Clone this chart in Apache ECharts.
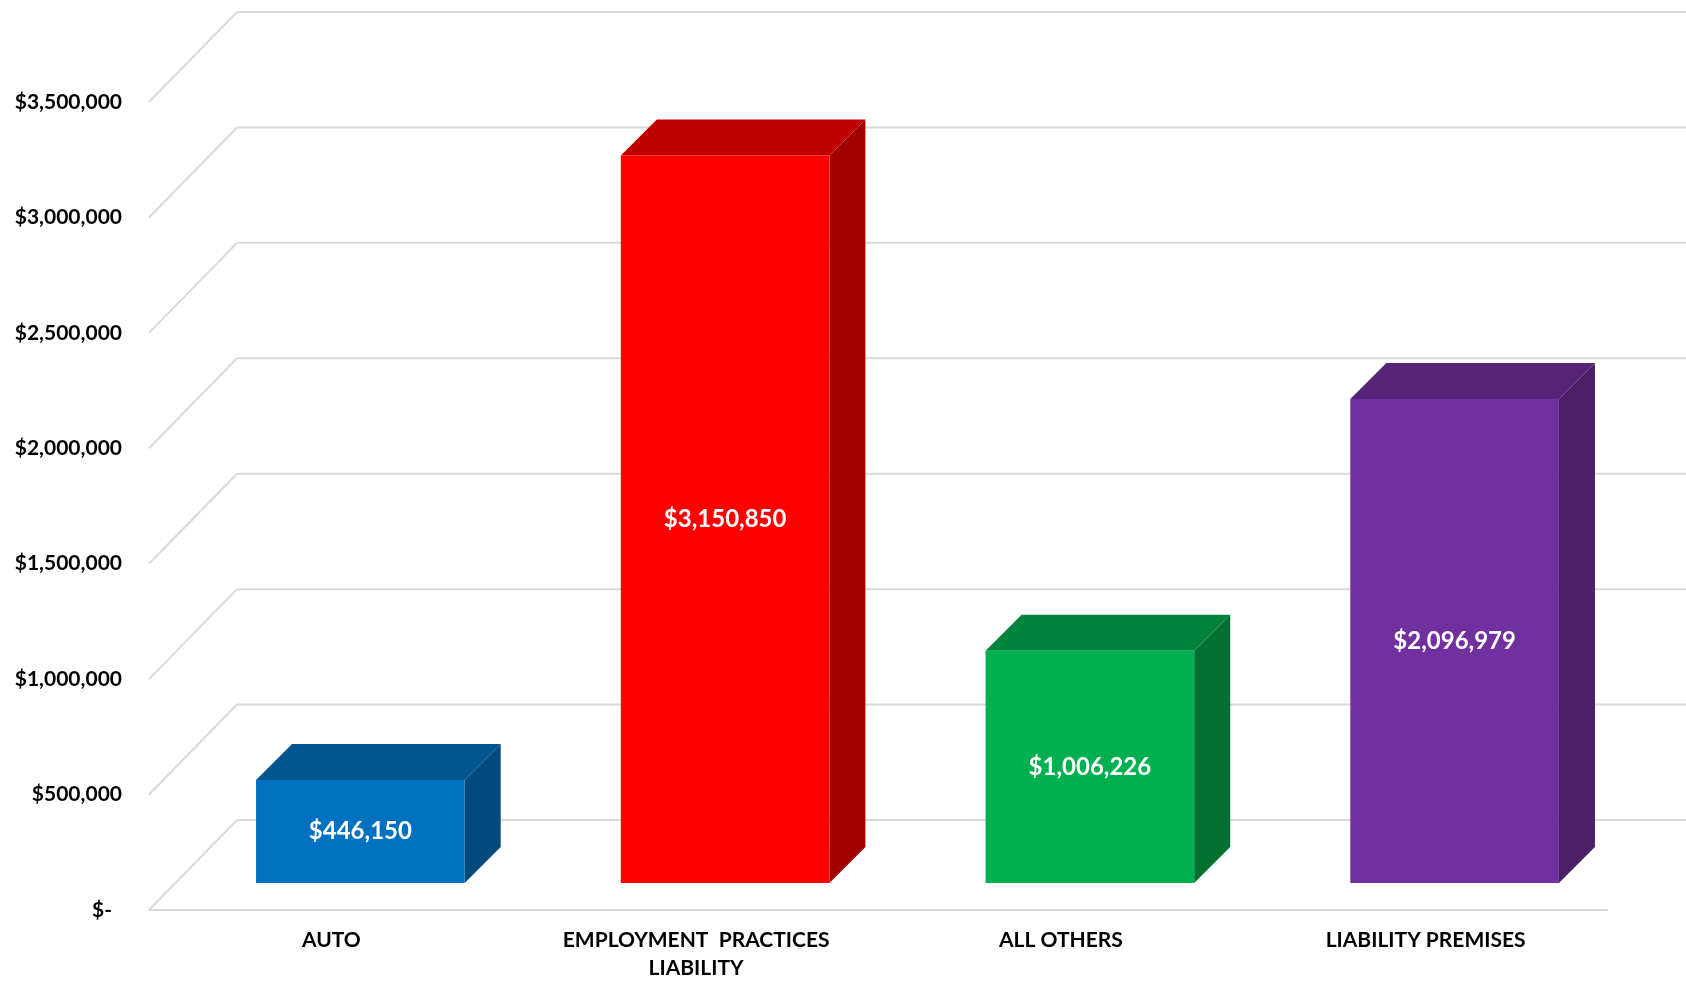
<!DOCTYPE html>
<html>
<head>
<meta charset="utf-8">
<script src="https://cdn.jsdelivr.net/npm/echarts@6/dist/echarts.min.js"></script>
<style>
  html, body { margin: 0; padding: 0; background: #ffffff; }
  #chart { width: 1686px; height: 982px; }
</style>
</head>
<body>
<div id="chart"></div>
<script>
// Claim totals by line of coverage
const categories = ['AUTO', 'EMPLOYMENT  PRACTICES\nLIABILITY', 'ALL OTHERS', 'LIABILITY PREMISES'];
const amounts = [446150, 3150850, 1006226, 2096979];
const yTicks = [0, 500000, 1000000, 1500000, 2000000, 2500000, 3000000, 3500000];

// front / top / side shades for each bar
const frontColors = ['#0070C0', '#FF0000', '#00B050', '#7030A0'];
const topColors = ['#00578F', '#C00000', '#00843D', '#552378'];
const sideColors = ['#004A7C', '#A30000', '#007030', '#4A1F66'];

// perspective settings (pixels)
const WALL_DX = 88, WALL_DY = 90;   // floor depth, front edge to back wall
const BAR_INSET_X = 29;             // bar front face set back from the front edge
const BAR_INSET_Y = 27;
const BAR_DEPTH = 36;               // bar depth
const BAR_WIDTH_RATIO = 0.572;
const GRID_COLOR = '#D9D9D9';

const fmtMoney = v => '$' + Math.round(v).toLocaleString('en-US');

const chart = echarts.init(document.getElementById('chart'), null, { renderer: 'canvas' });

const option = {
  backgroundColor: '#ffffff',
  animation: false,
  grid: { left: 149, right: 78, top: 102, bottom: 72, containLabel: false },
  xAxis: {
    type: 'category',
    data: categories,
    axisLine: { show: false },
    axisTick: { show: false },
    axisLabel: {
      interval: 0,
      margin: 16,
      color: '#000000',
      fontFamily: 'Lato',
      fontWeight: 'bold',
      fontSize: 21,
      lineHeight: 28
    }
  },
  yAxis: {
    type: 'value',
    min: 0,
    max: 3500000,
    interval: 500000,
    axisLine: { show: false },
    axisTick: { show: false },
    splitLine: { show: false },
    axisLabel: {
      margin: 27,
      color: '#000000',
      fontFamily: 'Lato',
      fontWeight: 'bold',
      fontSize: 21,
      formatter: v => v === 0 ? '{z|$-}' : fmtMoney(v),
      rich: {
        z: { color: '#000000', fontFamily: 'Lato', fontWeight: 'bold', fontSize: 21, padding: [0, 10, 0, 0] }
      }
    }
  },
  series: [
    {
      // back wall lines and side-wall diagonals, one per tick
      type: 'custom',
      name: 'grid',
      silent: true,
      clip: false,
      z: 1,
      data: yTicks.map(v => [0, v]),
      renderItem: function (params, api) {
        const cs = params.coordSys;
        const y = api.coord([0, api.value(1)])[1];
        const fx = cs.x, bx = cs.x + WALL_DX, by = y - WALL_DY;
        const style = { stroke: GRID_COLOR, lineWidth: 2, fill: null };
        const children = [
          { type: 'line', shape: { x1: fx, y1: y, x2: bx, y2: by }, style: style },
          { type: 'line', shape: { x1: bx, y1: by, x2: api.getWidth(), y2: by }, style: style }
        ];
        if (api.value(1) === 0) {
          children.push({ type: 'line', shape: { x1: fx, y1: y, x2: cs.x + cs.width, y2: y }, style: style });
        }
        return { type: 'group', children: children };
      }
    },
    {
      // 3-D style bars: front face, top face and right side
      type: 'custom',
      name: 'amount',
      clip: false,
      z: 3,
      data: amounts.map((v, i) => [i, v]),
      renderItem: function (params, api) {
        const i = params.dataIndex;
        const base = api.coord([api.value(0), 0]);
        const top = api.coord([api.value(0), api.value(1)]);
        const bw = api.size([1, 0])[0] * BAR_WIDTH_RATIO;
        const x0 = base[0] - bw / 2 + BAR_INSET_X;
        const y0 = base[1] - BAR_INSET_Y;
        const yt = top[1] - BAR_INSET_Y;
        const x1 = x0 + bw;
        const d = BAR_DEPTH;
        return {
          type: 'group',
          children: [
            {
              type: 'polygon',
              shape: { points: [[x0, yt], [x0 + d, yt - d], [x1 + d, yt - d], [x1, yt]] },
              style: { fill: topColors[i] }
            },
            {
              type: 'polygon',
              shape: { points: [[x1, yt], [x1 + d, yt - d], [x1 + d, y0 - d], [x1, y0]] },
              style: { fill: sideColors[i] }
            },
            {
              type: 'rect',
              shape: { x: x0, y: yt, width: bw, height: y0 - yt },
              style: { fill: frontColors[i] }
            },
            {
              type: 'text',
              x: x0 + bw / 2,
              y: (yt + y0) / 2,
              style: {
                text: fmtMoney(api.value(1)),
                fill: '#ffffff',
                fontFamily: 'Lato',
                fontWeight: 'bold',
                fontSize: 24,
                align: 'center',
                verticalAlign: 'middle'
              }
            }
          ]
        };
      }
    }
  ]
};

chart.setOption(option);
</script>
</body>
</html>
